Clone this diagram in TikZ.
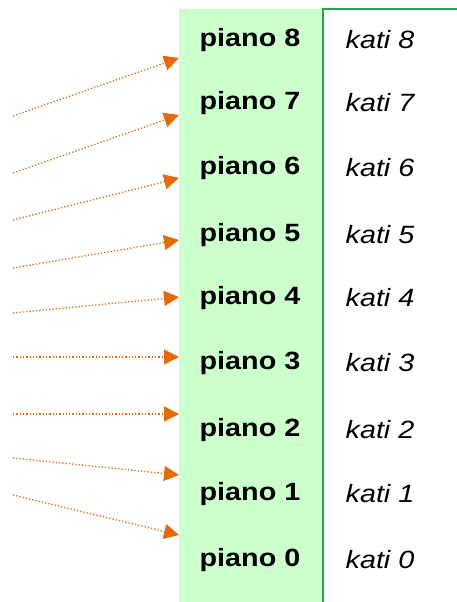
\documentclass[tikz,border=0pt]{standalone}
\usepackage{fontspec}
\setmainfont[FakeStretch=1.15]{Liberation Sans}
\usetikzlibrary{arrows.meta}
\definecolor{boxgreen}{HTML}{CCFFCC}
\definecolor{linegreen}{HTML}{22A650}
\definecolor{arrorange}{HTML}{E36C0A}
\tikzset{
  pianolab/.style={font=\fontsize{25}{25}\selectfont\bfseries, inner sep=0pt, anchor=center},
  katilab/.style={font=\fontsize{25}{25}\selectfont\itshape, inner sep=0pt, anchor=center},
  feed/.style={arrorange, line width=1.3pt, dotted, -{Triangle[length=15pt,width=15pt]}}
}
\begin{document}
\begin{tikzpicture}[x=1pt,y=-1pt]
\useasboundingbox (0,0) rectangle (457,602);
\fill[boxgreen] (179,9) rectangle (323,602);
\draw[linegreen, line width=1.5pt] (323,602) -- (323,9) -- (457,9);
\foreach \n/\y in {8/40,7/103,6/168,5/235,4/298,3/363,2/430,1/494,0/560}{
  \node[pianolab] (p\n) at (250,\y) {piano \n};
  \node[katilab] (k\n) at (380,\y) {kati \n};
}
\foreach \i/\s/\t in {a/116/58,b/173/115,c/220/178,d/268/240,e/313/297,f/357/357,g/414/414,h/458/475,i/495/535}{
  \coordinate (s\i) at (13,\s);
  \coordinate (t\i) at (179,\t);
  \draw[feed] (s\i) -- (t\i);
}
\end{tikzpicture}
\end{document}
